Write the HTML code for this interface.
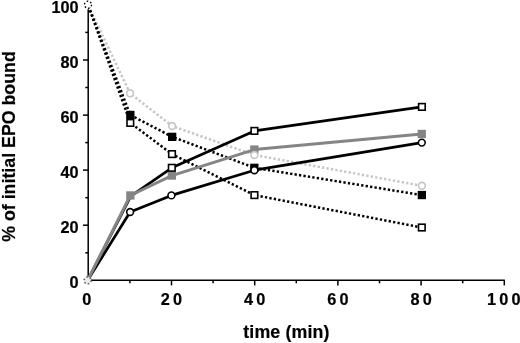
<!DOCTYPE html>
<html><head><meta charset="utf-8"><title>EPO bound</title>
<style>html,body{margin:0;padding:0;background:#fff}svg{display:block}text{font-family:"Liberation Sans",Arial,Helvetica,sans-serif;font-weight:bold;fill:#000}</style></head><body>
<svg width="520" height="343" viewBox="0 0 520 343">
<rect width="520" height="343" fill="#fff"/>
<g stroke="#000" stroke-width="1.5" fill="none" stroke-linecap="butt">
<path d="M88.2 9.2V280.3H504.8"/>
<path d="M85.3 252.8H88.2"/>
<path d="M83.0 225.2H88.2"/>
<path d="M85.3 197.7H88.2"/>
<path d="M83.0 170.1H88.2"/>
<path d="M85.3 142.6H88.2"/>
<path d="M83.0 115.1H88.2"/>
<path d="M85.3 87.5H88.2"/>
<path d="M83.0 60.0H88.2"/>
<path d="M85.3 32.4H88.2"/>
<path d="M129.9 280.3v3"/>
<path d="M171.5 280.3v5.1"/>
<path d="M213.1 280.3v3"/>
<path d="M254.7 280.3v5.1"/>
<path d="M296.3 280.3v3"/>
<path d="M337.9 280.3v5.1"/>
<path d="M379.5 280.3v3"/>
<path d="M421.1 280.3v5.1"/>
<path d="M462.7 280.3v3"/>
<path d="M504.3 280.3v5.1"/>
</g>
<text x="78.6" y="288.0" font-size="16.3" text-anchor="end" stroke="#000" stroke-width="0.2">0</text>
<text x="78.6" y="232.9" font-size="16.3" text-anchor="end" stroke="#000" stroke-width="0.2">20</text>
<text x="78.6" y="177.8" font-size="16.3" text-anchor="end" stroke="#000" stroke-width="0.2">40</text>
<text x="78.6" y="122.8" font-size="16.3" text-anchor="end" stroke="#000" stroke-width="0.2">60</text>
<text x="78.6" y="67.7" font-size="16.3" text-anchor="end" stroke="#000" stroke-width="0.2">80</text>
<text x="78.6" y="12.6" font-size="16.3" text-anchor="end" stroke="#000" stroke-width="0.2">100</text>
<text x="88.3" y="305.4" font-size="16.3" text-anchor="middle" letter-spacing="3.2" stroke="#000" stroke-width="0.2">0</text>
<text x="173.1" y="305.4" font-size="16.3" text-anchor="middle" letter-spacing="3.2" stroke="#000" stroke-width="0.2">20</text>
<text x="256.3" y="305.4" font-size="16.3" text-anchor="middle" letter-spacing="3.2" stroke="#000" stroke-width="0.2">40</text>
<text x="339.5" y="305.4" font-size="16.3" text-anchor="middle" letter-spacing="3.2" stroke="#000" stroke-width="0.2">60</text>
<text x="422.7" y="305.4" font-size="16.3" text-anchor="middle" letter-spacing="3.2" stroke="#000" stroke-width="0.2">80</text>
<text x="505.3" y="305.4" font-size="16.3" text-anchor="middle" letter-spacing="3.2" stroke="#000" stroke-width="0.2">100</text>
<text x="286.4" y="337.9" font-size="17.8" text-anchor="middle" letter-spacing="0.12" stroke="#000" stroke-width="0.2">time (min)</text>
<text transform="translate(14.5 146.5) rotate(-90)" font-size="17.8" text-anchor="middle" stroke="#000" stroke-width="0.2">% of initial EPO bound</text>
<path d="M88.0 4.9 L130.0 93.3 L172.1 126.0 L254.4 155.0 L421.9 185.8" fill="none" stroke="#c6c6c6" stroke-width="2.5" stroke-dasharray="2.3 2.2" stroke-dashoffset="-1.2" stroke-linejoin="round"/>
<path d="M88.0 4.9 L130.3 115.0 L172.2 136.8 L254.4 167.8 L421.8 195.1" fill="none" stroke="#000" stroke-width="2.5" stroke-dasharray="2.3 2.2" stroke-dashoffset="-1.2" stroke-linejoin="round"/>
<path d="M88.0 4.9 L130.3 122.9 L172.0 154.1 L254.4 195.1 L421.8 227.5" fill="none" stroke="#000" stroke-width="2.5" stroke-dasharray="2.3 2.2" stroke-dashoffset="-1.2" stroke-linejoin="round"/>
<path d="M87.6 280.4 L130.8 196.2 L171.8 167.8 L254.4 130.9 L421.9 106.9" fill="none" stroke="#000" stroke-width="2.7" stroke-linejoin="round"/>
<path d="M87.6 280.4 L130.1 212.0 L171.4 195.4 L254.4 170.2 L421.8 142.6" fill="none" stroke="#000" stroke-width="2.7" stroke-linejoin="round"/>
<path d="M87.6 280.4 L130.3 195.5 L171.8 175.6 L254.4 149.6 L421.7 133.9" fill="none" stroke="#858585" stroke-width="3.0" stroke-linejoin="round"/>
<rect x="126.2" y="110.8" width="8.3" height="8.3" fill="#000"/>
<rect x="168.0" y="132.7" width="8.3" height="8.3" fill="#000"/>
<rect x="250.2" y="163.7" width="8.3" height="8.3" fill="#000"/>
<rect x="417.7" y="190.9" width="8.3" height="8.3" fill="#000"/>
<rect x="127.0" y="119.6" width="6.6" height="6.6" fill="#fff" stroke="#000" stroke-width="1.6"/>
<rect x="168.7" y="150.8" width="6.6" height="6.6" fill="#fff" stroke="#000" stroke-width="1.6"/>
<rect x="251.1" y="191.8" width="6.6" height="6.6" fill="#fff" stroke="#000" stroke-width="1.6"/>
<rect x="418.5" y="224.2" width="6.6" height="6.6" fill="#fff" stroke="#000" stroke-width="1.6"/>
<rect x="126.2" y="191.3" width="8.3" height="8.3" fill="#858585"/>
<rect x="167.7" y="171.4" width="8.3" height="8.3" fill="#858585"/>
<rect x="250.2" y="145.4" width="8.3" height="8.3" fill="#858585"/>
<rect x="417.6" y="129.8" width="8.3" height="8.3" fill="#858585"/>
<rect x="168.5" y="164.5" width="6.6" height="6.6" fill="#fff" stroke="#000" stroke-width="1.6"/>
<rect x="251.1" y="127.6" width="6.6" height="6.6" fill="#fff" stroke="#000" stroke-width="1.6"/>
<rect x="418.6" y="103.6" width="6.6" height="6.6" fill="#fff" stroke="#000" stroke-width="1.6"/>
<circle cx="130.0" cy="93.3" r="3.4" fill="#fff" stroke="#c6c6c6" stroke-width="1.6"/>
<circle cx="172.1" cy="126.0" r="3.4" fill="#fff" stroke="#c6c6c6" stroke-width="1.6"/>
<circle cx="254.4" cy="155.0" r="3.4" fill="#fff" stroke="#c6c6c6" stroke-width="1.6"/>
<circle cx="421.9" cy="185.8" r="3.4" fill="#fff" stroke="#c6c6c6" stroke-width="1.6"/>
<circle cx="130.1" cy="212.0" r="3.4" fill="#fff" stroke="#000" stroke-width="1.6"/>
<circle cx="171.4" cy="195.4" r="3.4" fill="#fff" stroke="#000" stroke-width="1.6"/>
<circle cx="254.4" cy="170.2" r="3.4" fill="#fff" stroke="#000" stroke-width="1.6"/>
<circle cx="421.8" cy="142.6" r="3.4" fill="#fff" stroke="#000" stroke-width="1.6"/>
<circle cx="88.0" cy="4.7" r="3.5" fill="#fff" stroke="#000" stroke-width="1.4" stroke-dasharray="1.6 2.07"/>
<circle cx="87.6" cy="280.4" r="3.5" fill="#ececec" stroke="#6a6a6a" stroke-width="1.7" stroke-dasharray="1.6 2.07"/>
</svg></body></html>
